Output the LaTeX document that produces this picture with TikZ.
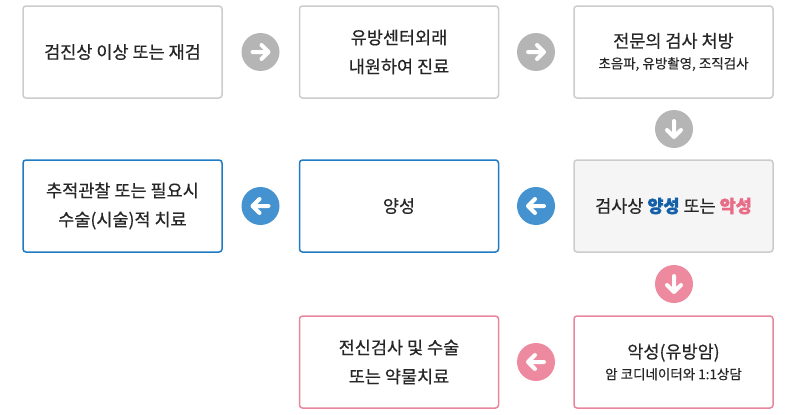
\documentclass[tikz,border=0pt]{standalone}
\usepackage{fontspec}
\setmainfont{Noto Sans CJK KR}[FakeBold=0.5,BoldFeatures={FakeBold=1.8}]
\usetikzlibrary{positioning,calc}
\definecolor{boxgray}{HTML}{CCCCCC}
\definecolor{circgray}{HTML}{B5B5B5}
\definecolor{benblue}{HTML}{1E7BC4}
\definecolor{circblue}{HTML}{4493D0}
\definecolor{malpink}{HTML}{E9859C}
\definecolor{circpink}{HTML}{EE8A9F}
\definecolor{txtblue}{HTML}{1360A8}
\definecolor{txtpink}{HTML}{E96C87}
\tikzset{
  stepbox/.style={draw=boxgray,line width=1.5pt,rounded corners=3pt,minimum width=199pt,
    minimum height=92pt,align=center,font=\fontsize{17.5}{29}\selectfont,text=black!85},
  circ/.style={circle,fill=#1,minimum size=38pt,inner sep=0pt},
  wharrow/.style={white,line width=4pt,line cap=round,line join=round}
}
% white arrow inside a circle node
\newcommand{\circarrow}[2]{%
  \draw[wharrow,rotate around={#2:(#1.center)}] ($(#1.center)+(-8pt,0)$) -- ($(#1.center)+(8pt,0)$)
    ($(#1.center)+(1pt,-7pt)$) -- ($(#1.center)+(8pt,0)$) -- ($(#1.center)+(1pt,7pt)$);}
\newcommand{\subtxt}{\fontsize{13.5}{18}\selectfont}
\begin{document}
\begin{tikzpicture}[x=1pt,y=-1pt]
  \useasboundingbox (0,0) rectangle (798,415);
  % first row
  \node[stepbox] (check) at (122.5,52) {검진상 이상 또는 재검};
  \node[stepbox] (center) at (399,52) {유방센터외래\\내원하여 진료};
  \node[stepbox] (exam) at (673.5,52) {전문의 검사 처방\\[-8pt]{\subtxt 초음파, 유방촬영, 조직검사}};
  % second row
  \node[stepbox,fill=black!4] (result) at (673.5,206) {검사상 {\bfseries\color{txtblue}양성} 또는 {\bfseries\color{txtpink}악성}};
  \node[stepbox,draw=benblue] (benign) at (399,206) {양성};
  \node[stepbox,draw=benblue] (follow) at (122.5,206) {추적관찰 또는 필요시\\수술(시술)적 치료};
  % third row
  \node[stepbox,draw=malpink] (malig) at (673.5,362) {악성(유방암)\\[-8pt]{\subtxt 암 코디네이터와 1:1상담}};
  \node[stepbox,draw=malpink] (treat) at (399,362) {전신검사 및 수술\\또는 약물치료};
  % circle arrows
  \node[circ=circgray] (a1) at (260.5,52) {};
  \node[circ=circgray] (a2) at (536,52) {};
  \node[circ=circgray] (a3) at (674,129) {};
  \node[circ=circblue] (a4) at (536,206) {};
  \node[circ=circblue] (a5) at (260.5,206) {};
  \node[circ=circpink] (a6) at (674,284) {};
  \node[circ=circpink] (a7) at (536,362) {};
  \circarrow{a1}{0}
  \circarrow{a2}{0}
  \circarrow{a3}{-90}
  \circarrow{a4}{180}
  \circarrow{a5}{180}
  \circarrow{a6}{-90}
  \circarrow{a7}{180}
\end{tikzpicture}
\end{document}
